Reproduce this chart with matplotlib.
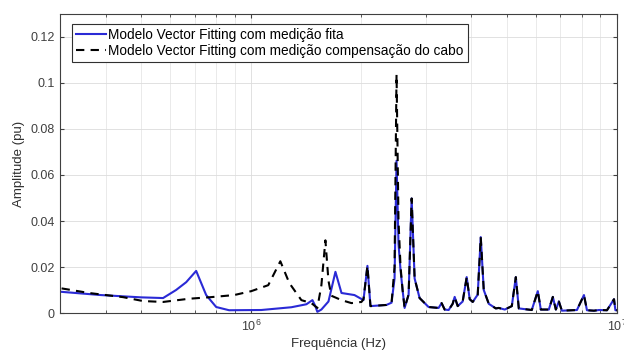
import matplotlib
matplotlib.use("Agg")
import matplotlib.pyplot as plt
from matplotlib.ticker import LogLocator, NullFormatter

plt.rcParams['font.family'] = ['Liberation Sans', 'DejaVu Sans']

# Series 1: Modelo Vector Fitting com medição fita (Hz, pu)
freq_fita = [3.03e5, 3.88e5, 5.0e5, 5.74e5, 6.23e5, 6.64e5, 7.07e5, 7.53e5, 8.02e5, 8.70e5,
             1.065e6, 1.287e6, 1.415e6, 1.470e6, 1.497e6, 1.516e6, 1.555e6, 1.626e6, 1.699e6,
             1.765e6, 1.915e6, 2.027e6, 2.078e6, 2.118e6, 2.343e6, 2.419e6, 2.465e6, 2.496e6,
             2.527e6, 2.560e6, 2.593e6, 2.626e6, 2.693e6, 2.745e6, 2.797e6, 2.886e6, 3.054e6,
             3.253e6, 3.315e6, 3.379e6, 3.465e6, 3.554e6, 3.599e6, 3.668e6, 3.785e6, 3.882e6,
             3.956e6, 4.032e6, 4.161e6, 4.241e6, 4.322e6, 4.461e6, 4.662e6, 4.751e6, 4.934e6,
             5.157e6, 5.289e6, 5.389e6, 5.848e6, 6.074e6, 6.190e6, 6.510e6, 6.677e6, 6.805e6,
             6.935e6, 7.068e6, 7.771e6, 8.122e6, 8.277e6, 8.650e6, 8.928e6, 9.389e6, 9.813e6,
             9.9e6, 1.0e7]
amp_fita = [0.0092, 0.0078, 0.0068, 0.0065, 0.0100, 0.0134, 0.0183, 0.0078, 0.0026, 0.0012,
            0.0013, 0.0025, 0.0038, 0.0056, 0.0030, 0.0005, 0.0015, 0.0050, 0.0179,
            0.0087, 0.0078, 0.0056, 0.0205, 0.0030, 0.0035, 0.0045, 0.0150, 0.0662,
            0.0300, 0.0186, 0.0100, 0.0022, 0.0080, 0.0498, 0.0150, 0.0065, 0.0026,
            0.0022, 0.0043, 0.0015, 0.0013, 0.0040, 0.0070, 0.0030, 0.0050, 0.0156,
            0.0060, 0.0048, 0.0080, 0.0330, 0.0100, 0.0040, 0.0020, 0.0022, 0.0015,
            0.0030, 0.0156, 0.0020, 0.0013, 0.0095, 0.0015, 0.0015, 0.0070, 0.0015,
            0.0050, 0.0010, 0.0013, 0.0078, 0.0012, 0.0010, 0.0013, 0.0012, 0.0060,
            0.0012, 0.0012]

# Series 2: Modelo Vector Fitting com medição compensação do cabo (Hz, pu)
freq_cabo = [3.03e5, 3.60e5, 4.46e5, 5.06e5, 5.74e5, 6.76e5, 7.77e5, 8.98e5, 1.0e6, 1.113e6,
             1.201e6, 1.271e6, 1.371e6, 1.460e6, 1.516e6, 1.555e6, 1.595e6, 1.626e6, 1.656e6,
             1.765e6, 1.879e6, 2.001e6, 2.027e6, 2.078e6, 2.118e6, 2.343e6, 2.419e6, 2.465e6,
             2.496e6, 2.527e6, 2.560e6, 2.593e6, 2.626e6, 2.693e6, 2.745e6, 2.797e6, 2.886e6,
             3.054e6, 3.253e6, 3.315e6, 3.379e6, 3.465e6, 3.554e6, 3.599e6, 3.668e6, 3.785e6,
             3.882e6, 3.956e6, 4.032e6, 4.161e6, 4.241e6, 4.322e6, 4.461e6, 4.662e6, 4.751e6,
             4.934e6, 5.157e6, 5.289e6, 5.389e6, 5.848e6, 6.074e6, 6.190e6, 6.510e6, 6.677e6,
             6.805e6, 6.935e6, 7.068e6, 7.771e6, 8.122e6, 8.277e6, 8.650e6, 8.928e6, 9.389e6,
             9.813e6, 9.9e6, 1.0e7]
amp_cabo = [0.0107, 0.0087, 0.0069, 0.0052, 0.0048, 0.0062, 0.0069, 0.0078, 0.0095, 0.0121,
            0.0225, 0.0130, 0.0056, 0.0043, 0.0022, 0.0120, 0.0316, 0.0140, 0.0075,
            0.0056, 0.0043, 0.0048, 0.0060, 0.0205, 0.0030, 0.0035, 0.0045, 0.0200,
            0.1038, 0.0400, 0.0200, 0.0100, 0.0022, 0.0080, 0.0498, 0.0150, 0.0065,
            0.0026, 0.0022, 0.0043, 0.0015, 0.0013, 0.0040, 0.0070, 0.0030, 0.0050,
            0.0156, 0.0060, 0.0048, 0.0080, 0.0330, 0.0100, 0.0040, 0.0020, 0.0022,
            0.0015, 0.0030, 0.0156, 0.0020, 0.0013, 0.0095, 0.0015, 0.0015, 0.0070,
            0.0015, 0.0050, 0.0010, 0.0013, 0.0078, 0.0012, 0.0010, 0.0013, 0.0012,
            0.0060, 0.0012, 0.0012]

label_fita = "Modelo Vector Fitting com medição fita"
label_cabo = "Modelo Vector Fitting com medição compensação do cabo"
y_ticks = [0, 0.02, 0.04, 0.06, 0.08, 0.1, 0.12]
y_ticklabels = ["0", "0.02", "0.04", "0.06", "0.08", "0.1", "0.12"]

fig = plt.figure(figsize=(6.24, 3.52), dpi=100)
ax = fig.add_axes([60/624, 39/352, 557/624, 299/352])

ax.plot(freq_fita, amp_fita, color='#2a2ad6', lw=1.5, label=label_fita)
ax.plot(freq_cabo, amp_cabo, color='black', lw=1.5, ls=(0, (4, 3)), label=label_cabo)

ax.set_xscale('log')
ax.set_xlim(3e5, 1e7)
ax.set_ylim(0, 0.13)
ax.set_yticks(y_ticks)
ax.set_yticklabels(y_ticklabels)
ax.xaxis.set_major_locator(LogLocator(base=10, numticks=10))
ax.xaxis.set_minor_locator(LogLocator(base=10, subs=range(2, 10), numticks=20))
ax.xaxis.set_minor_formatter(NullFormatter())

ax.grid(True, which='major', color='#dcdcdc', lw=0.6)
ax.grid(True, which='minor', axis='x', color='#e6e6e6', lw=0.6)
ax.set_axisbelow(True)

ax.tick_params(which='both', direction='in', top=True, right=True, labelsize=9, colors='#404040')
ax.tick_params(which='major', length=3, pad=4)
ax.tick_params(which='minor', length=2)
for s in ax.spines.values():
    s.set_color('#404040')
    s.set_linewidth(0.8)

ax.set_xlabel("Frequência (Hz)", fontsize=9.5, color='#303030', labelpad=3)
ax.set_ylabel("Amplitude (pu)", fontsize=9.5, color='#303030', labelpad=4)

leg = ax.legend(loc='upper left', bbox_to_anchor=(12/557, 1 - 10/299), borderaxespad=0,
                fontsize=9.8, frameon=True, fancybox=False, edgecolor='#303030',
                framealpha=1, handlelength=2.2, handletextpad=0.15, labelspacing=0.15,
                borderpad=0.3)
leg.get_frame().set_linewidth(0.8)

fig.savefig("out.png", dpi=100)
